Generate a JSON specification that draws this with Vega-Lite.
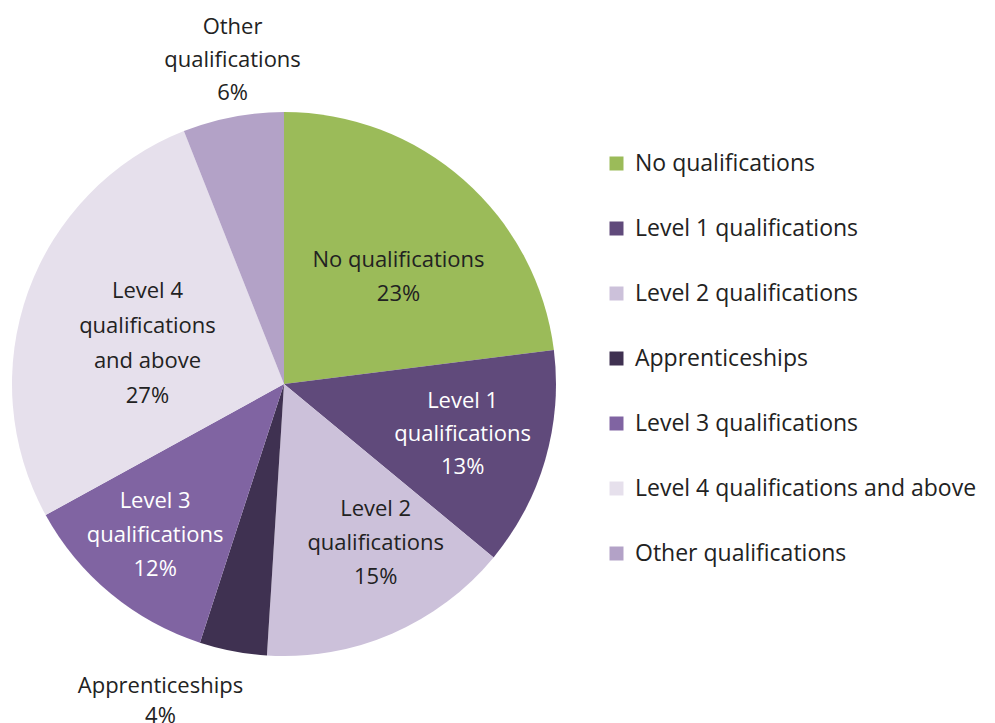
{
  "$schema": "https://vega.github.io/schema/vega-lite/v6.json",
  "width": 995,
  "height": 723,
  "autosize": {"type": "none"},
  "padding": 0,
  "background": "white",
  "config": {"view": {"stroke": null}, "font": "Open Sans"},
  "data": {"values": [
    {"category": "No qualifications", "value": 23, "order": 1, "label": "No qualifications|23%"},
    {"category": "Level 1 qualifications", "value": 13, "order": 2, "label": "Level 1|qualifications|13%"},
    {"category": "Level 2 qualifications", "value": 15, "order": 3, "label": "Level 2|qualifications|15%"},
    {"category": "Apprenticeships", "value": 4, "order": 4, "label": "Apprenticeships|4%"},
    {"category": "Level 3 qualifications", "value": 12, "order": 5, "label": "Level 3|qualifications|12%"},
    {"category": "Level 4 qualifications and above", "value": 27, "order": 6, "label": "Level 4|qualifications|and above|27%"},
    {"category": "Other qualifications", "value": 6, "order": 7, "label": "Other|qualifications|6%"}
  ]},
  "transform": [
    {"stack": "value", "groupby": [], "sort": [{"field": "order"}], "as": ["v0", "v1"]},
    {"calculate": "(datum.v0 + datum.v1) / 2", "as": "mid"}
  ],
  "layer": [
    {
      "mark": {"type": "arc", "x": 284, "y": 384, "outerRadius": 272},
      "encoding": {
        "theta": {"field": "v0", "type": "quantitative", "stack": null, "scale": {"domain": [0, 100]}},
        "theta2": {"field": "v1"},
        "color": {
          "field": "category", "type": "nominal",
          "scale": {
            "domain": ["No qualifications", "Level 1 qualifications", "Level 2 qualifications", "Apprenticeships", "Level 3 qualifications", "Level 4 qualifications and above", "Other qualifications"],
            "range": ["#9BBB59", "#604A7B", "#CCC1DA", "#3F3151", "#8064A2", "#E6E0EC", "#B3A2C7"]
          },
          "legend": {
            "orient": "none", "legendX": 605, "legendY": 152, "title": null,
            "symbolType": "square", "symbolSize": 196, "symbolStrokeWidth": 0,
            "labelFontSize": 23, "labelColor": "#222222", "labelOffset": 7,
            "rowPadding": 41, "labelLimit": 400
          }
        }
      }
    },
    {
      "transform": [{"filter": "datum.category == 'No qualifications'"}],
      "mark": {"type": "text", "x": 284, "y": 384, "radius": 158, "dx": 10, "dy": -5, "fontSize": 22, "lineBreak": "|", "lineHeight": 34, "color": "#222222"},
      "encoding": {"theta": {"field": "mid", "type": "quantitative", "stack": null}, "text": {"field": "label"}}
    },
    {
      "transform": [{"filter": "datum.category == 'Level 1 qualifications'"}],
      "mark": {"type": "text", "x": 284, "y": 384, "radius": 185, "dx": 1, "dy": -35, "fontSize": 22, "lineBreak": "|", "lineHeight": 33, "color": "#ffffff"},
      "encoding": {"theta": {"field": "mid", "type": "quantitative", "stack": null}, "text": {"field": "label"}}
    },
    {
      "transform": [{"filter": "datum.category == 'Level 2 qualifications'"}],
      "mark": {"type": "text", "x": 284, "y": 384, "radius": 183, "dx": 19, "dy": -43, "fontSize": 22, "lineBreak": "|", "lineHeight": 34, "color": "#222222"},
      "encoding": {"theta": {"field": "mid", "type": "quantitative", "stack": null}, "text": {"field": "label"}}
    },
    {
      "transform": [{"filter": "datum.category == 'Apprenticeships'"}],
      "mark": {"type": "text", "x": 284, "y": 384, "radius": 339, "dx": -60, "dy": -31, "fontSize": 22, "lineBreak": "|", "lineHeight": 30, "color": "#222222"},
      "encoding": {"theta": {"field": "mid", "type": "quantitative", "stack": null}, "text": {"field": "label"}}
    },
    {
      "transform": [{"filter": "datum.category == 'Level 3 qualifications'"}],
      "mark": {"type": "text", "x": 284, "y": 384, "radius": 199, "dx": -2, "dy": -36, "fontSize": 22, "lineBreak": "|", "lineHeight": 34, "color": "#ffffff"},
      "encoding": {"theta": {"field": "mid", "type": "quantitative", "stack": null}, "text": {"field": "label"}}
    },
    {
      "transform": [{"filter": "datum.category == 'Level 4 qualifications and above'"}],
      "mark": {"type": "text", "x": 284, "y": 384, "radius": 143, "dx": -2, "dy": -45, "fontSize": 22, "lineBreak": "|", "lineHeight": 35, "color": "#222222"},
      "encoding": {"theta": {"field": "mid", "type": "quantitative", "stack": null}, "text": {"field": "label"}}
    },
    {
      "transform": [{"filter": "datum.category == 'Other qualifications'"}],
      "mark": {"type": "text", "x": 284, "y": 384, "radius": 328, "dx": 10, "dy": -35, "fontSize": 22, "lineBreak": "|", "lineHeight": 33, "color": "#222222"},
      "encoding": {"theta": {"field": "mid", "type": "quantitative", "stack": null}, "text": {"field": "label"}}
    }
  ]
}
